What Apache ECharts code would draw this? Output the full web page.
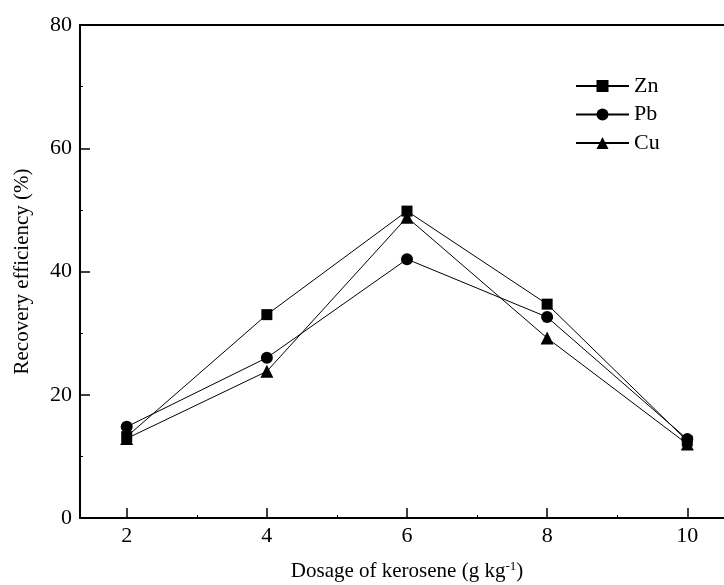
<!DOCTYPE html>
<html>
<head>
<meta charset="utf-8">
<script src="https://cdn.jsdelivr.net/npm/echarts@6/dist/echarts.min.js"></script>
<style>
  html, body { margin: 0; padding: 0; background: #fff; }
  #chart { width: 724px; height: 585px; }
</style>
</head>
<body>
<div id="chart"></div>
<script>
// Kerosene dosage (g/kg) and recovery efficiency (%) for each metal
var dosage = [2, 4, 6, 8, 10];
var zn = [13.2, 33.0, 49.8, 34.7, 12.5];
var pb = [14.8, 26.0, 42.0, 32.6, 12.8];
var cu = [12.9, 23.8, 48.8, 29.2, 12.0];

var xMajorTicks = [2, 4, 6, 8, 10];
var xMinorTicks = [3, 5, 7, 9];

var FONT = 'Liberation Serif';

function pairs(ys) {
  return dosage.map(function (x, i) { return [x, ys[i]]; });
}

function lineSeries(name, symbol, size, ys) {
  return {
    name: name,
    type: 'line',
    data: pairs(ys),
    symbol: symbol,
    symbolSize: size,
    lineStyle: { color: '#000', width: 1 },
    itemStyle: { color: '#000' },
    emphasis: { disabled: true },
    animation: false
  };
}

var chart = echarts.init(document.getElementById('chart'), null, { renderer: 'canvas' });

chart.setOption({
  backgroundColor: '#fff',
  animation: false,
  grid: { left: 80, top: 25, right: -10, bottom: 67, outerBoundsMode: 'none' },
  legend: {
    orient: 'vertical',
    left: 570,
    top: 70,
    itemWidth: 53,
    itemHeight: 15,
    itemGap: 6.5,
    textStyle: { fontFamily: FONT, fontSize: 22, color: '#000' },
    data: ['Zn', 'Pb', 'Cu']
  },
  xAxis: [
    {
      type: 'value',
      min: 4 / 3,
      max: 32 / 3,
      position: 'bottom',
      axisLine: { lineStyle: { color: '#000', width: 2 } },
      splitLine: { show: false },
      axisTick: { inside: true, length: 10, customValues: xMajorTicks, lineStyle: { color: '#000', width: 1.5 } },
      axisLabel: { customValues: xMajorTicks, margin: 7, fontFamily: FONT, fontSize: 22, color: '#000' },
      name: 'Dosage of kerosene (g kg{sup|-1})',
      nameLocation: 'middle',
      nameGap: 42,
      nameTextStyle: {
        fontFamily: FONT, fontSize: 21, color: '#000',
        rich: { sup: { fontFamily: FONT, fontSize: 13, color: '#000', verticalAlign: 'top', padding: [0, 0, 10, 0] } }
      }
    },
    {
      // minor ticks between the labelled ones
      type: 'value',
      min: 4 / 3,
      max: 32 / 3,
      position: 'bottom',
      axisLine: { show: false },
      splitLine: { show: false },
      axisTick: { inside: true, length: 3, customValues: xMinorTicks, lineStyle: { color: '#000', width: 1 } },
      axisLabel: { show: false }
    },
    {
      // top frame line
      type: 'value',
      min: 4 / 3,
      max: 32 / 3,
      position: 'top',
      axisLine: { lineStyle: { color: '#000', width: 2 } },
      splitLine: { show: false },
      axisTick: { show: false },
      axisLabel: { show: false }
    }
  ],
  yAxis: {
    type: 'value',
    min: 0,
    max: 80,
    interval: 20,
    axisLine: { show: true, lineStyle: { color: '#000', width: 2 } },
    splitLine: { show: false },
    axisTick: { show: true, inside: true, length: 10, lineStyle: { color: '#000', width: 1.5 } },
    minorTick: { show: true, splitNumber: 2, length: 3, lineStyle: { color: '#000', width: 1 } },
    axisLabel: { margin: 8, fontFamily: FONT, fontSize: 22, color: '#000' },
    name: 'Recovery efficiency (%)',
    nameLocation: 'middle',
    nameGap: 47,
    nameTextStyle: { fontFamily: FONT, fontSize: 21, color: '#000' }
  },
  series: [
    lineSeries('Zn', 'rect', 11, zn),
    lineSeries('Pb', 'circle', 12, pb),
    lineSeries('Cu', 'triangle', 13, cu)
  ]
});
</script>
</body>
</html>
